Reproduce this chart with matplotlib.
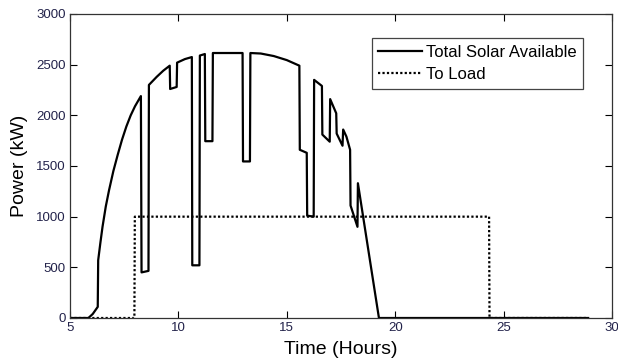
import matplotlib
matplotlib.use("Agg")
from matplotlib import pyplot as plt

# Total solar available (kW) vs time of day (hours); repeated hours = vertical steps
solar_h = [5.0, 5.85, 6.05, 6.28, 6.30, 6.40, 6.5, 6.65, 6.8, 7.0, 7.2, 7.4,
           7.6, 7.8, 8.0, 8.27,
           8.30, 8.62, 8.64, 9.0, 9.3, 9.6, 9.62, 9.92, 9.94, 10.3, 10.62,
           10.64, 10.97, 10.99, 11.22, 11.24, 11.57, 11.59, 12.96, 12.98, 13.30,
           13.32, 13.8, 14.4, 15.0, 15.58, 15.60, 15.92, 15.94, 16.24, 16.26,
           16.62, 16.64, 16.98, 17.00, 17.28, 17.30, 17.57, 17.60, 17.75, 17.92,
           17.94, 18.26, 18.28, 19.25, 28.9]
solar_kw = [0, 0, 40, 110, 570, 740, 900, 1100, 1260, 1450, 1610, 1760,
            1890, 2000, 2090, 2190,
            450, 465, 2300, 2380, 2440, 2490, 2260, 2280, 2520, 2555, 2575,
            520, 520, 2590, 2605, 1745, 1745, 2615, 2615, 1545, 1545,
            2615, 2610, 2585, 2545, 2490, 1660, 1630, 1010, 1000, 2350,
            2290, 1810, 1740, 2160, 2020, 1820, 1700, 1860, 1790, 1660,
            1110, 900, 1330, 0, 0]

# Power delivered to the load
load_h = [5.0, 7.97, 7.99, 24.33, 24.35, 28.9]
load_kw = [0, 0, 1000, 1000, 0, 0]

x_ticks = [5, 10, 15, 20, 25, 30]
y_ticks = [0, 500, 1000, 1500, 2000, 2500, 3000]

plt.rcParams['font.family'] = ['Liberation Sans', 'DejaVu Sans']

fig = plt.figure(figsize=(6.18, 3.64), dpi=100)
ax = fig.add_axes([70 / 618, 46 / 364, 542 / 618, 304 / 364])

ax.plot(solar_h, solar_kw, color='black', linewidth=1.6, label='Total Solar Available')
ax.plot(load_h, load_kw, color='black', linewidth=1.6, linestyle=(0, (1, 1)), label='To Load')

ax.set_xlim(5, 30)
ax.set_ylim(0, 3000)
ax.set_xticks(x_ticks)
ax.set_yticks(y_ticks)
ax.tick_params(direction='in', top=True, right=True, length=5, width=0.8,
               labelsize=9.5, labelcolor='#22224a', pad=3)
for s in ax.spines.values():
    s.set_linewidth(0.9)
    s.set_color('#333333')

ax.set_xlabel('Time (Hours)', fontsize=14, labelpad=5)
ax.set_ylabel('Power (kW)', fontsize=14, labelpad=6)

leg = ax.legend(loc='upper right', bbox_to_anchor=(0.9465, 0.921), borderaxespad=0,
                fontsize=12, handlelength=2.6, handletextpad=0.25, labelspacing=0.45,
                borderpad=0.4, fancybox=False, framealpha=1)
leg.get_frame().set_edgecolor('#444444')
leg.get_frame().set_linewidth(0.9)

fig.savefig('out.png', dpi=100)
